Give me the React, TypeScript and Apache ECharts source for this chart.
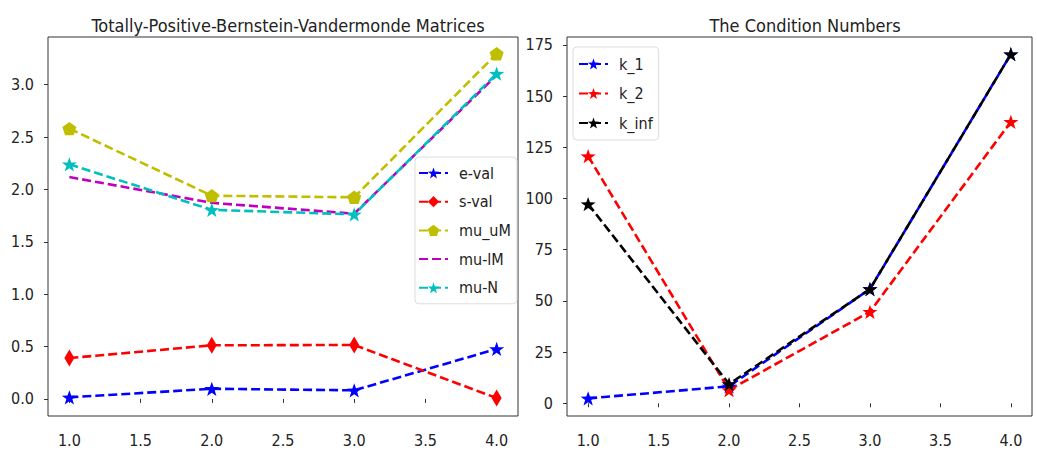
import React, { useEffect, useRef } from "react";
import * as echarts from "echarts";

const xs = [1, 2, 3, 4];
const eVal = [0.015, 0.097, 0.082, 0.477];
const sVal = [0.39, 0.512, 0.515, 0.008];
const muUM = [2.58, 1.94, 1.925, 3.295];
const muLM = [2.118, 1.872, 1.768, 3.09];
const muN = [2.24, 1.805, 1.762, 3.105];
const k1 = [2.4, 8.3, 55.8, 170.5];
const k2 = [120.7, 6.5, 44.7, 137.5];
const kInf = [97.3, 9.4, 55.8, 170.5];

const xTicks = [1, 1.5, 2, 2.5, 3, 3.5, 4];
const leftYTicks = [0, 0.5, 1, 1.5, 2, 2.5, 3];
const rightYTicks = [0, 25, 50, 75, 100, 125, 150, 175];

const FONT = "'DejaVu Sans Condensed', 'DejaVu Sans', sans-serif";
const STAR =
  "path://M0,-10 L2.35,-3.24 L9.51,-3.09 L3.8,1.24 L5.88,8.09 L0,4 L-5.88,8.09 L-3.8,1.24 L-9.51,-3.09 L-2.35,-3.24Z";
const PENTA = "path://M0,-10 L9.51,-3.09 L5.88,8.09 L-5.88,8.09 L-9.51,-3.09Z";

const pts = (ys: number[]) => xs.map((x, i) => [x, ys[i]]);

function mkSeries(
  name: string,
  ys: number[],
  color: string,
  symbol: string,
  size: any,
  idx: number
) {
  return {
    name,
    type: "line",
    xAxisIndex: idx,
    yAxisIndex: idx,
    data: pts(ys),
    symbol,
    symbolSize: size,
    symbolKeepAspect: true,
    showSymbol: symbol !== "none",
    lineStyle: { color, width: 2.6, type: [9, 4] },
    itemStyle: { color, borderWidth: 0 },
    emphasis: { disabled: true },
  };
}

export default function App() {
  const ref = useRef<HTMLDivElement>(null);
  useEffect(() => {
    if (!ref.current) return;
    const chart = echarts.init(ref.current, undefined, { renderer: "svg" });
    const axisTick = (vals: number[]) => ({
      show: true,
      inside: false,
      length: 4,
      customValues: vals,
      lineStyle: { color: "#333", width: 1 },
    });
    const axisLabel = (vals: number[], fmt: (v: number) => string, margin: number) => ({
      customValues: vals,
      formatter: fmt,
      fontFamily: FONT,
      fontSize: 16,
      color: "#222",
      margin,
    });
    const xAx = (gi: number) => ({
      type: "value",
      gridIndex: gi,
      min: 0.85,
      max: 4.15,
      axisLine: { show: false },
      axisTick: axisTick(xTicks),
      axisLabel: axisLabel(xTicks, (v: number) => v.toFixed(1), 16),
      splitLine: { show: false },
    });
    const legendText = {
      fontFamily: FONT,
      fontSize: 16,
      color: "#222",
      lineHeight: 14,
      padding: [0, 0, 0, 6],
    };
    chart.setOption({
      animation: false,
      backgroundColor: "#fff",
      title: [
        {
          text: "Totally-Positive-Bernstein-Vandermonde Matrices",
          left: 283,
          top: 11,
          textAlign: "center",
          textStyle: { fontFamily: FONT, fontSize: 18, fontWeight: "normal", color: "#222" },
        },
        {
          text: "The Condition Numbers",
          left: 800,
          top: 11,
          textAlign: "center",
          textStyle: { fontFamily: FONT, fontSize: 18, fontWeight: "normal", color: "#222" },
        },
      ],
      grid: [
        { left: 48, top: 37, width: 470, height: 379, show: true, borderColor: "#333", borderWidth: 1, backgroundColor: "transparent" },
        { left: 567, top: 37, width: 465, height: 379, show: true, borderColor: "#333", borderWidth: 1, backgroundColor: "transparent" },
      ],
      xAxis: [xAx(0), xAx(1)],
      yAxis: [
        {
          type: "value",
          gridIndex: 0,
          min: -0.163,
          max: 3.455,
          axisLine: { show: false },
          axisTick: axisTick(leftYTicks),
          axisLabel: axisLabel(leftYTicks, (v: number) => v.toFixed(1), 14),
          splitLine: { show: false },
        },
        {
          type: "value",
          gridIndex: 1,
          min: -6.2,
          max: 178.9,
          axisLine: { show: false },
          axisTick: axisTick(rightYTicks),
          axisLabel: axisLabel(rightYTicks, (v: number) => String(Math.round(v)), 14),
          splitLine: { show: false },
        },
      ],
      legend: [
        {
          data: [
            "e-val",
            "s-val",
            "mu_uM",
            { name: "mu-lM", itemStyle: { opacity: 0 } },
            "mu-N",
          ],
          orient: "vertical",
          left: 415,
          top: 157,
          itemWidth: 29,
          itemHeight: 14,
          itemGap: 12.7,
          padding: [8, 6, 8, 3],
          borderColor: "#ddd",
          borderWidth: 1,
          borderRadius: 4,
          backgroundColor: "rgba(255,255,255,0.85)",
          textStyle: legendText,
          selectedMode: false,
        },
        {
          data: ["k_1", "k_2", "k_inf"],
          orient: "vertical",
          left: 573,
          top: 47,
          itemWidth: 29,
          itemHeight: 14,
          itemGap: 13.5,
          padding: [9, 6, 9, 5],
          borderColor: "#ddd",
          borderWidth: 1,
          borderRadius: 4,
          backgroundColor: "rgba(255,255,255,0.85)",
          textStyle: legendText,
          selectedMode: false,
        },
      ],
      series: [
        mkSeries("e-val", eVal, "#0000ff", STAR, 15, 0),
        mkSeries("s-val", sVal, "#ff0000", "diamond", [10, 17], 0),
        mkSeries("mu_uM", muUM, "#bfbf00", PENTA, 14, 0),
        mkSeries("mu-lM", muLM, "#bf00bf", "none", 1, 0),
        mkSeries("mu-N", muN, "#00bfbf", STAR, 15, 0),
        mkSeries("k_1", k1, "#0000ff", STAR, 15, 1),
        mkSeries("k_2", k2, "#ff0000", STAR, 15, 1),
        mkSeries("k_inf", kInf, "#000000", STAR, 15, 1),
      ],
    });
    return () => chart.dispose();
  }, []);
  return (
    <div
      ref={ref}
      style={{ position: "absolute", left: 0, top: 0, width: 1037, height: 452, background: "#fff" }}
    />
  );
}
